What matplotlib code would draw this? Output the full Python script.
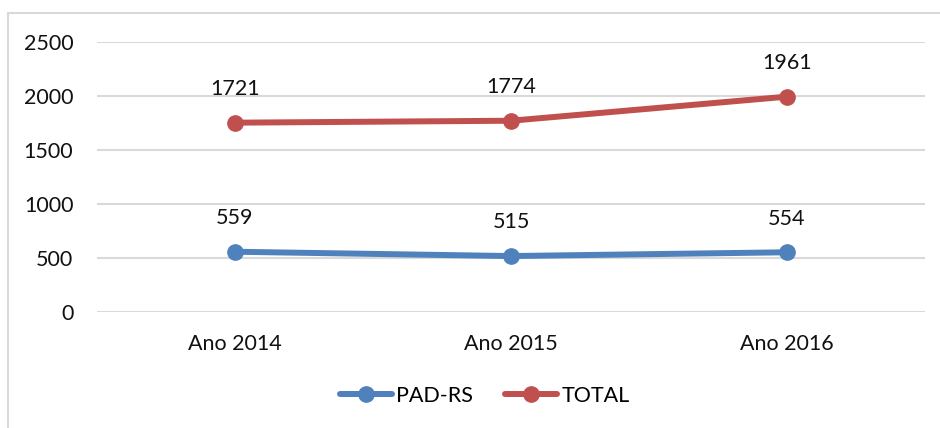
import matplotlib.pyplot as plt
from matplotlib.patches import Rectangle

categories = ['Ano 2014', 'Ano 2015', 'Ano 2016']
pad_rs = [558, 518, 553]
pad_rs_labels = ['559', '515', '554']
total = [1753, 1771, 1994]
total_labels = ['1721', '1774', '1961']

c_blue = '#4F81BD'
c_red = '#C0504D'
W, H = 940, 428
fs = 15.5

plt.rcParams['font.family'] = ['Lato', 'DejaVu Sans']

fig = plt.figure(figsize=(W / 100, H / 100), dpi=100)
# chart area border (light grey, runs off right/bottom edges)
fig.patches.append(Rectangle((8 / W, -0.1), 1.1, 1.1 - 13 / H, transform=fig.transFigure,
                             fill=False, edgecolor='#D9D9D9', lw=1.5))

ax = fig.add_axes([97 / W, 1 - 312 / H, (925 - 97) / W, (312 - 42) / H])
x = list(range(len(categories)))
ax.plot(x, pad_rs, color=c_blue, lw=4.3, marker='o', ms=11, label='PAD-RS', solid_capstyle='round')
ax.plot(x, total, color=c_red, lw=4.3, marker='o', ms=11, label='TOTAL', solid_capstyle='round')

for xi, yi, t in zip(x, pad_rs, pad_rs_labels):
    ax.annotate(t, (xi, yi), xytext=(0, 17), textcoords='offset points',
                ha='center', va='bottom', fontsize=fs, color='#111111')
for xi, yi, t in zip(x, total, total_labels):
    ax.annotate(t, (xi, yi), xytext=(0, 17), textcoords='offset points',
                ha='center', va='bottom', fontsize=fs, color='#111111')

ax.set_xlim(-0.5, 2.5)
ax.set_ylim(0, 2500)
ax.set_yticks([0, 500, 1000, 1500, 2000, 2500])
ax.set_xticks(x)
ax.set_xticklabels(categories)
ax.grid(axis='y', color='#D9D9D9', lw=1.5)
ax.set_axisbelow(True)
for s in ax.spines.values():
    s.set_visible(False)
ax.tick_params(length=0, labelsize=fs, colors='#111111')
ax.tick_params(axis='y', pad=17)
ax.tick_params(axis='x', pad=16)

ax.legend(loc='center', bbox_to_anchor=(485 / W, 1 - 396 / H), bbox_transform=fig.transFigure,
          ncol=2, frameon=False, fontsize=fs, handlelength=2.4, handletextpad=0.2,
          columnspacing=1.5)

fig.savefig('out.png', dpi=100)
